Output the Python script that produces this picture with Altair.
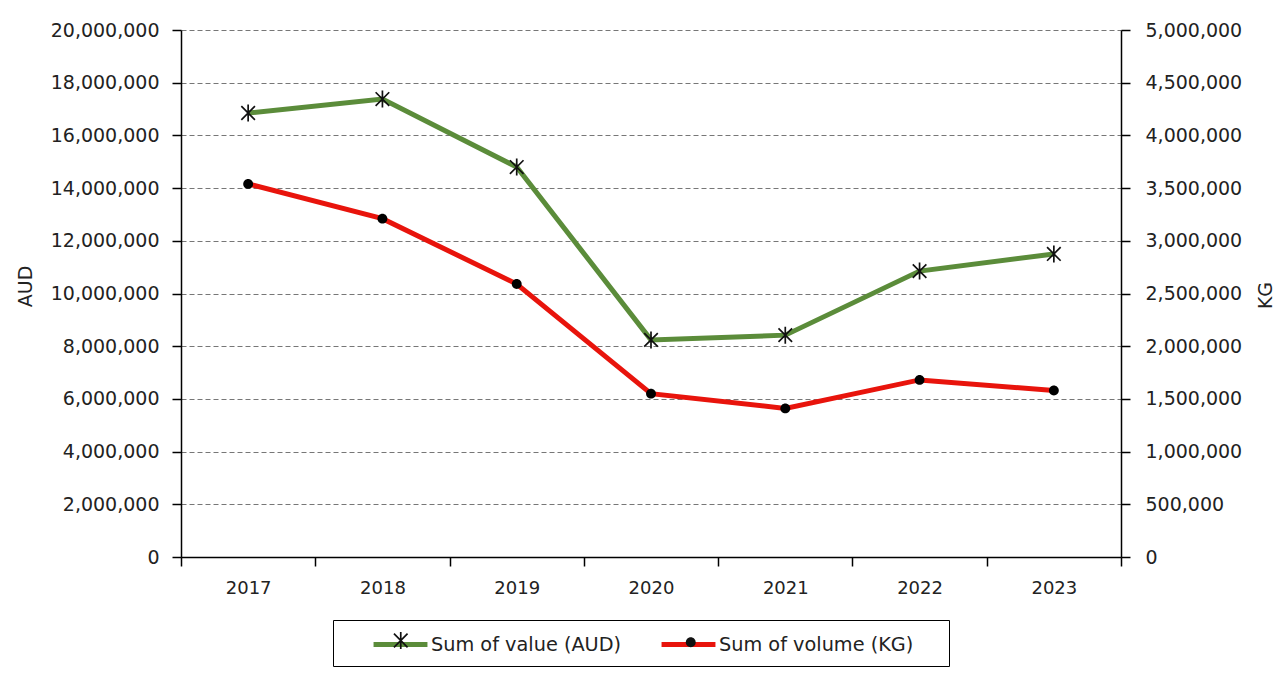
import altair as alt
import pandas as pd

years = ["2017", "2018", "2019", "2020", "2021", "2022", "2023"]
value_aud = [16850000, 17380000, 14800000, 8240000, 8420000, 10850000, 11500000]
volume_kg = [3540000, 3210000, 2590000, 1550000, 1410000, 1680000, 1580000]
series_names = ["Sum of value (AUD)", "Sum of volume (KG)"]
marker_names = [s + " " for s in series_names]
aud_ticks = list(range(0, 20000001, 2000000))
kg_ticks = list(range(0, 5000001, 500000))

df = pd.DataFrame({
    "year": years * 2,
    "series": [series_names[0]] * len(years) + [series_names[1]] * len(years),
    "amount": value_aud + volume_kg,
})

FONT = "DejaVu Sans"
TXT = "#222222"
# asterisk drawn as three filled bars (so it renders in both chart and legend)
ASTER = ("M-0.1,-1L0.1,-1L0.1,1L-0.1,1Z"
         "M-0.73,-0.87L0.87,0.73L0.73,0.87L-0.87,-0.73Z"
         "M0.87,-0.73L-0.73,0.87L-0.87,0.73L0.73,-0.87Z")
DOT = "M0.58,0A0.58,0.58 0 1,1 -0.58,0A0.58,0.58 0 1,1 0.58,0Z"

x_enc = alt.X(
    "year:N", sort=years,
    scale=alt.Scale(type="band", paddingInner=0, paddingOuter=0),
    axis=alt.Axis(title=None, labelAngle=0, tickBand="extent", grid=False,
                  domainColor="#000", tickColor="#000", tickSize=9,
                  domainWidth=1.5, tickWidth=1.5,
                  labelPadding=13, labelFontSize=18, labelColor=TXT, labelFont=FONT),
)

y_aud = alt.Y(
    "amount:Q",
    scale=alt.Scale(domain=[0, 20000000], nice=False, zero=True),
    axis=alt.Axis(orient="left", values=aud_ticks, format=",d", title="AUD",
                  grid=True, gridDash=[5, 3], gridColor="#777777", gridWidth=1,
                  domainColor="#000", tickColor="#000", tickSize=9,
                  domainWidth=1.5, tickWidth=1.5,
                  labelPadding=13, labelFontSize=19, labelColor=TXT, labelFont=FONT,
                  titleFont=FONT, titleFontSize=19, titleFontWeight="normal", titleColor=TXT,
                  titleAngle=270, titleAlign="center", titleBaseline="middle",
                  titleX=-156, titleY=256),
)

y_kg = alt.Y(
    "amount:Q",
    scale=alt.Scale(domain=[0, 5000000], nice=False, zero=True),
    axis=alt.Axis(orient="right", values=kg_ticks, format=",d", title="KG",
                  grid=False,
                  domainColor="#000", tickColor="#000", tickSize=9,
                  domainWidth=1.5, tickWidth=1.5,
                  labelPadding=15, labelFontSize=19, labelColor=TXT, labelFont=FONT,
                  titleFont=FONT, titleFontSize=19, titleFontWeight="normal", titleColor=TXT,
                  titleAngle=270, titleAlign="center", titleBaseline="middle",
                  titleX=144, titleY=265),
)

LEG_COMMON = dict(
    orient="none", legendX=152, legendY=590, direction="horizontal",
    padding=11, labelFont=FONT, labelLimit=400,
)

color = alt.Color(
    "series:N",
    scale=alt.Scale(domain=series_names, range=["#5b8c3a", "#e8140c"]),
    legend=alt.Legend(
        title=".", titleOrient="right", titlePadding=17, titleFontSize=19,
        titleFont=FONT, titleOpacity=0,
        strokeColor="#000", fillColor="#fff",
        symbolType="M-2.45,0L2.45,0", symbolSize=484, symbolStrokeWidth=5,
        symbolOffset=43, labelOffset=17, labelColor=TXT, columnPadding=10,
        labelFontSize=19.3,
        **LEG_COMMON,
    ),
)

shape = alt.Shape(
    "marker:N",
    scale=alt.Scale(domain=marker_names, range=[ASTER, DOT]),
    legend=alt.Legend(
        title=None,
        symbolSize=289, symbolStrokeWidth=1.5, symbolStrokeColor="#111",
        symbolFillColor="#000", symbolOpacity=1,
        symbolOffset=47.25, labelOffset=0, columnPadding=222,
        labelFontSize=1, labelOpacity=0, labelExpr="''",
        **LEG_COMMON,
    ),
)

aud = (alt.Chart(df).transform_filter(alt.datum.series == series_names[0])
       .transform_calculate(marker="datum.series + ' '"))
kg = (alt.Chart(df).transform_filter(alt.datum.series == series_names[1])
      .transform_calculate(marker="datum.series + ' '"))

aud_line = aud.mark_line(strokeWidth=5).encode(x=x_enc, y=y_aud, color=color)
aud_pts = aud.mark_point(filled=True, fill="#111", strokeWidth=0,
                         size=289, opacity=1).encode(x=x_enc, y=y_aud, shape=shape)
kg_line = kg.mark_line(strokeWidth=5).encode(x=x_enc, y=y_kg, color=color)
kg_pts = kg.mark_point(filled=True, fill="#000", strokeWidth=0,
                       size=289, opacity=1).encode(x=x_enc, y=y_kg, shape=shape)

chart = (
    alt.layer(alt.layer(aud_line, aud_pts), alt.layer(kg_line, kg_pts))
    .resolve_scale(y="independent")
    .properties(width=940, height=527,
                padding={"left": 173, "top": 22, "right": 155, "bottom": 116},
                autosize=alt.AutoSizeParams(type="none"))
    .configure_view(stroke="transparent")
)

chart.save("out.html", embed_options={"renderer": "svg", "actions": False})
